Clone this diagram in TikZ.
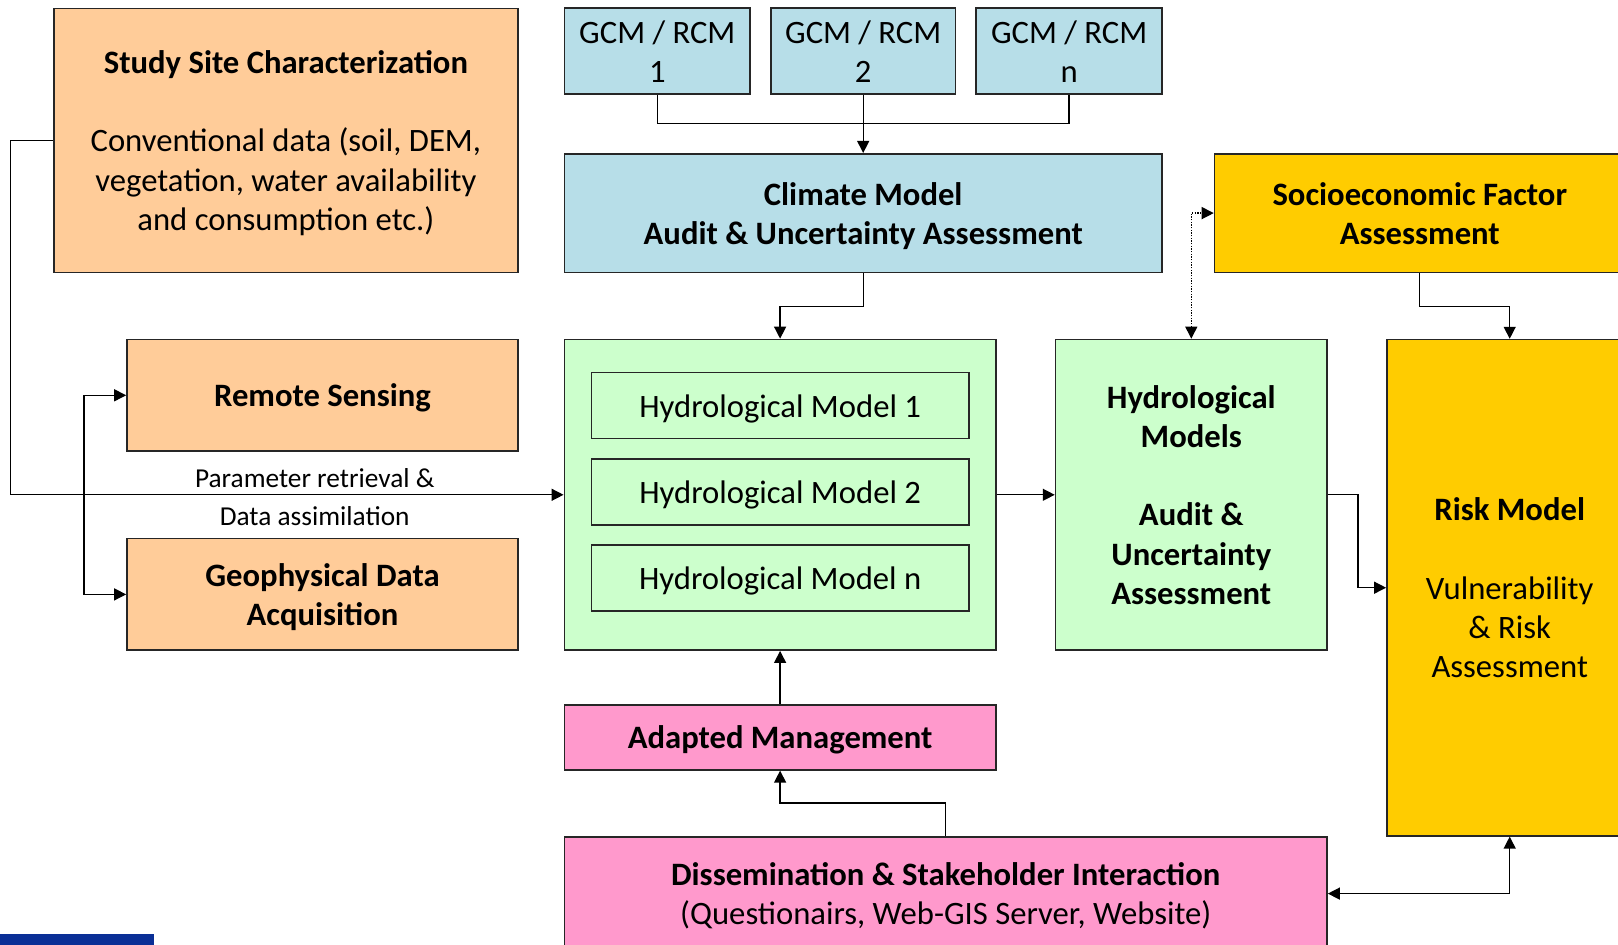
\documentclass[tikz,border=0pt]{standalone}
\usepackage{fontspec}
\setmainfont{Carlito}
\usetikzlibrary{arrows.meta}
\definecolor{peach}{HTML}{FFCC99}
\definecolor{skyb}{HTML}{B7DEE8}
\definecolor{mint}{HTML}{CCFFCC}
\definecolor{gold}{HTML}{FFCC00}
\definecolor{pinkb}{HTML}{FF99CC}
\definecolor{barblue}{HTML}{0A2F96}
\definecolor{edge}{HTML}{262626}
\newcommand\ls{\rule[-6pt]{0pt}{29.3pt}}
\begin{document}
\begin{tikzpicture}[x=0.75pt,y=-0.75pt,
  box/.style={draw=edge, line width=1.2pt, inner sep=0pt, align=center,
    font=\fontsize{24.5}{29.4}\selectfont},
  conn/.style={line width=1pt, draw=black, -{Triangle[length=9pt,width=9pt]}},
  line/.style={line width=1pt, draw=black},
  twoway/.style={line width=1pt, draw=black, {Triangle[length=9pt,width=9pt]}-{Triangle[length=9pt,width=9pt]}},
  lbl/.style={inner sep=0pt, align=center, font=\fontsize{20.5}{28.5}\selectfont}]
\useasboundingbox (0,0) rectangle (1618,945);
\clip (0,0) rectangle (1618,945);

% boxes
\node[box, fill=peach, minimum width=348.2pt, minimum height=198.1pt] (study) at (285.9,140.4)
  {\ls\textbf{Study Site Characterization}\\[29.4pt]\ls Conventional data (soil, DEM,\\\ls vegetation, water availability\\\ls and consumption etc.)};
\node[box, fill=skyb, minimum width=139.4pt, minimum height=64.2pt] (g1) at (657.3,51.1) {\ls GCM / RCM\\\ls 1};
\node[box, fill=skyb, minimum width=138.5pt, minimum height=64.2pt] (g2) at (863.2,51.1) {\ls GCM / RCM\\\ls 2};
\node[box, fill=skyb, minimum width=139.4pt, minimum height=64.2pt] (gn) at (1069.1,51.1) {\ls GCM / RCM\\\ls n};
\node[box, fill=skyb, minimum width=448.2pt, minimum height=89pt] (climate) at (863.2,213.1)
  {\ls\textbf{Climate Model}\\\ls\textbf{Audit \& Uncertainty Assessment}};
\node[box, fill=gold, minimum width=307.9pt, minimum height=89pt] (socio) at (1419.8,213.1)
  {\ls\textbf{Socioeconomic Factor}\\\ls\textbf{Assessment}};
\node[box, fill=peach, minimum width=293.3pt, minimum height=83.6pt] (rs) at (322.5,395.3)
  {\ls\textbf{Remote Sensing}};
\node[box, fill=peach, minimum width=293.3pt, minimum height=83.6pt] (geo) at (322.5,594.4)
  {\ls\textbf{Geophysical Data}\\\ls\textbf{Acquisition}};
\node[box, fill=mint, minimum width=323.6pt, minimum height=233pt] (hydro) at (780.1,494.8) {};
\node[box, fill=mint, minimum width=283.3pt, minimum height=49.6pt] (m1) at (780.2,405.6) {\ls Hydrological Model 1};
\node[box, fill=mint, minimum width=283.3pt, minimum height=49.6pt] (m2) at (780.2,492.2) {\ls Hydrological Model 2};
\node[box, fill=mint, minimum width=283.3pt, minimum height=49.6pt] (mn) at (780.2,577.9) {\ls Hydrological Model n};
\node[box, fill=mint, minimum width=203.6pt, minimum height=233pt] (hm) at (1191.3,494.8)
  {\ls\textbf{Hydrological}\\\ls\textbf{Models}\\[29.4pt]\ls\textbf{Audit \&}\\\ls\textbf{Uncertainty}\\\ls\textbf{Assessment}};
\node[box, fill=gold, minimum width=184.2pt, minimum height=372.2pt] (risk) at (1509.7,587.7)
  {\ls\textbf{Risk Model}\\[29.4pt]\ls Vulnerability\\\ls\& Risk\\\ls Assessment};
\node[box, fill=pinkb, minimum width=323.6pt, minimum height=48.8pt] (adapt) at (780.1,737.3)
  {\ls\textbf{Adapted Management}};
\node[box, fill=pinkb, minimum width=572pt, minimum height=85pt] (dissem) at (945.7,893.6)
  {\ls\textbf{Dissemination \& Stakeholder Interaction}\\\ls(Questionairs, Web-GIS Server, Website)};

% bottom-left bar
\fill[barblue] (0,934.3) rectangle (154,945);

% connectors
\draw[conn] (study.west) -- ++(-42.3,0) |- (hydro.west);
\node[lbl] (param) at (314.7,497) {Parameter retrieval \&\\Data assimilation};
\draw[twoway] (rs.west) -- ++(-42.3,0) |- (geo.west);
\draw[line] (g1.south) -- ++(0,28.9) -| (gn.south);
\draw[conn] (g2.south) -- (climate.north);
\draw[conn] (climate.south) -- ++(0,33) -| (hydro.north);
\draw[conn] (hydro.east) -- (hm.west);
\draw[conn] (hm.east) -- ++(30,0) |- (risk.west);
\draw[conn] (socio.south) -- ++(0,33) -| (risk.north);
\draw[twoway, densely dotted] (hm.north) |- (socio.west);
\draw[conn] (adapt.north) -- (hydro.south);
\draw[conn] (dissem.north) -- ++(0,-33) -| (adapt.south);
\draw[twoway] (risk.south) |- (dissem.east);
\end{tikzpicture}
\end{document}
